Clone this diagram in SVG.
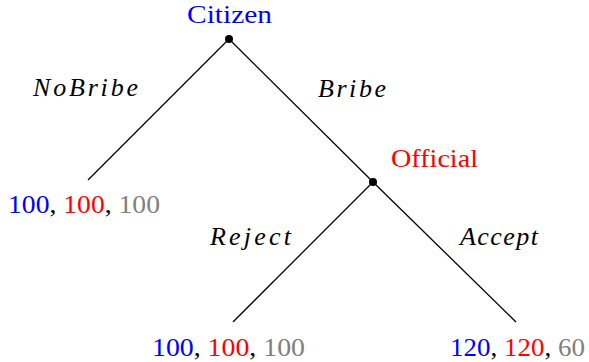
<svg xmlns="http://www.w3.org/2000/svg" width="589" height="362" viewBox="0 0 589 362" font-family="Liberation Serif, Times New Roman, Times, serif">
<style>
text{font-size:26px}
.it{font-style:italic}
.b{fill:#0000ff}.r{fill:#ff0000}.g{fill:#808080}.k{fill:#000}
.edge{stroke:#000;stroke-width:1.3;fill:none}
.dot{fill:#000}
</style>
<rect width="589" height="362" fill="#fff"/>
<g id="connectors">
<line class="edge" x1="229" y1="39" x2="88" y2="180"/>
<line class="edge" x1="229" y1="39" x2="373" y2="182"/>
<line class="edge" x1="373" y1="182" x2="233" y2="322"/>
<line class="edge" x1="373" y1="182" x2="516" y2="322"/>
<text class="it" x="33" y="96" textLength="105" lengthAdjust="spacing">NoBribe</text>
<text class="it" x="318" y="97" textLength="68" lengthAdjust="spacing">Bribe</text>
<text class="it" x="210" y="245" textLength="81" lengthAdjust="spacing">Reject</text>
<text class="it" x="460" y="245" textLength="78" lengthAdjust="spacing">Accept</text>
</g>
<g id="citizen">
<circle class="dot" cx="229" cy="39" r="4"/>
<text class="b" x="187" y="23" textLength="85" lengthAdjust="spacingAndGlyphs">Citizen</text>
</g>
<g id="official">
<circle class="dot" cx="373" cy="182" r="4"/>
<text class="r" x="391" y="167" textLength="87" lengthAdjust="spacingAndGlyphs">Official</text>
</g>
<g id="leaf-nobribe">
<text x="8" y="213" textLength="152" lengthAdjust="spacingAndGlyphs"><tspan class="b">100</tspan><tspan class="k">, </tspan><tspan class="r">100</tspan><tspan class="k">, </tspan><tspan class="g">100</tspan></text>
</g>
<g id="leaf-reject">
<text x="152" y="356" textLength="153" lengthAdjust="spacingAndGlyphs"><tspan class="b">100</tspan><tspan class="k">, </tspan><tspan class="r">100</tspan><tspan class="k">, </tspan><tspan class="g">100</tspan></text>
</g>
<g id="leaf-accept">
<text x="450" y="356" textLength="135" lengthAdjust="spacingAndGlyphs"><tspan class="b">120</tspan><tspan class="k">, </tspan><tspan class="r">120</tspan><tspan class="k">, </tspan><tspan class="g">60</tspan></text>
</g>
</svg>
